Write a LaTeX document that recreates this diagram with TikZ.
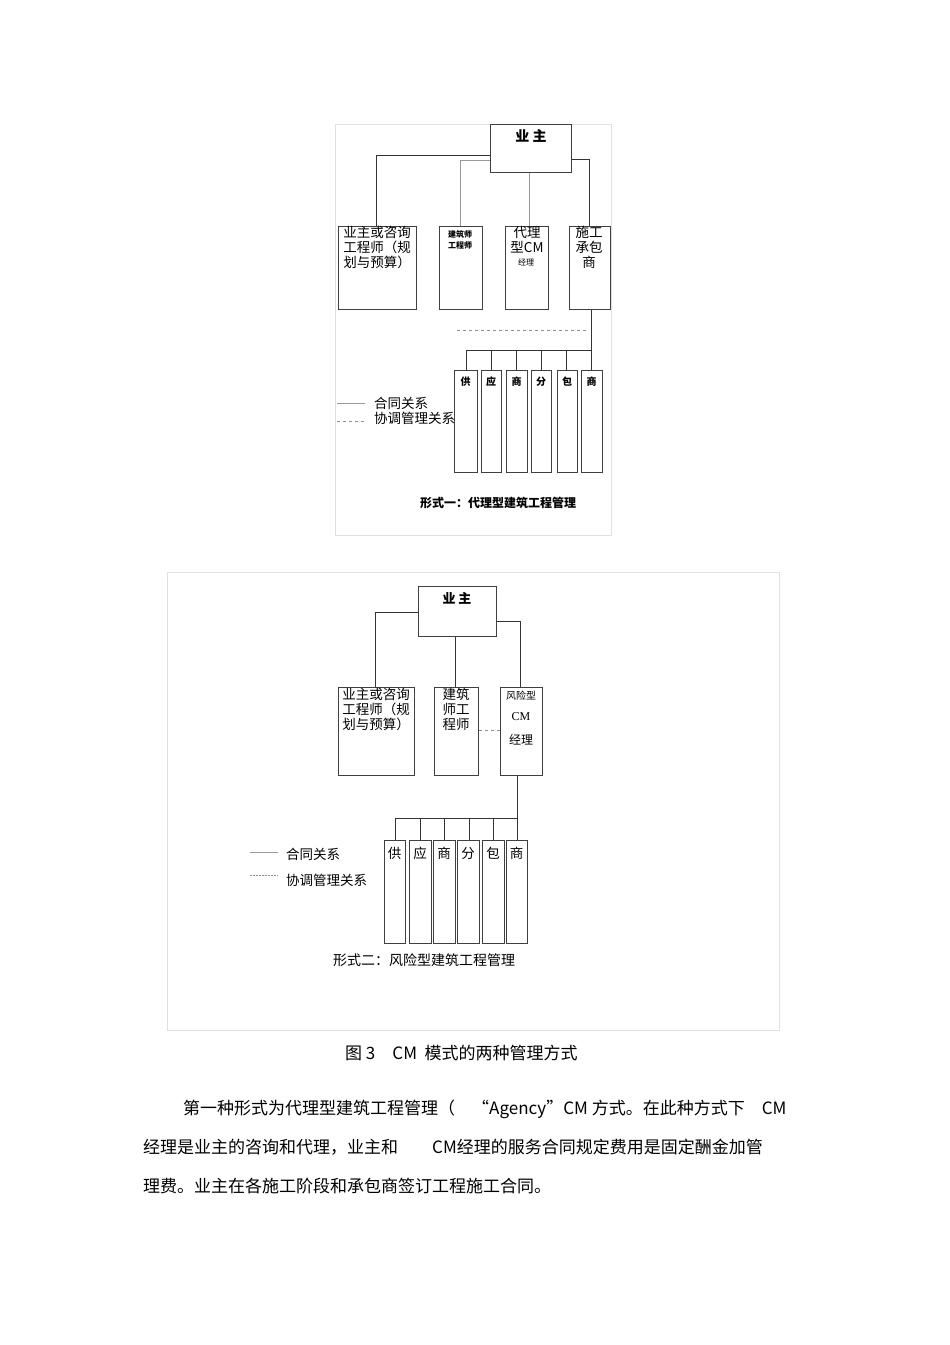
\documentclass[tikz,border=0pt]{standalone}
\usepackage{fontspec}
\setmainfont{Liberation Serif}
\newfontfamily\cjk{Noto Sans CJK SC}
\begin{document}
\begin{tikzpicture}[x=1pt,y=-1pt,
 bx/.style={draw=black!75,line width=1.1pt,rectangle,anchor=north west,inner sep=0pt},
 ln/.style={draw=black!80,line width=0.9pt},
 gl/.style={draw=black!40,line width=0.9pt},
 dl/.style={draw=black!45,dashed,line width=0.8pt},
 tx/.style={font=\cjk\fontsize{13.5}{15}\selectfont,align=center,inner sep=0pt},
 sm/.style={font=\cjk\bfseries\fontsize{10}{10}\selectfont,inner sep=0pt},
 body/.style={font=\cjk\fontsize{17}{19}\selectfont,anchor=west,inner sep=0pt}]
\useasboundingbox (0,0) rectangle (950,1345);
% ---------- diagram 1
\draw[black!12] (335,124) rectangle (611,535);
\node[bx,minimum width=81pt,minimum height=48pt] (o1) at (490,124) {};
\node[tx,font=\cjk\bfseries\fontsize{14}{15}\selectfont] at (531,136) {业 主};
\node[bx,minimum width=78pt,minimum height=83pt] (a1) at (338,226) {};
\node[bx,minimum width=43pt,minimum height=83pt] (b1) at (439,226) {};
\node[bx,minimum width=43pt,minimum height=83pt] (c1) at (505,226) {};
\node[bx,minimum width=41pt,minimum height=83pt] (d1) at (569,226) {};
\node[tx,anchor=north] at (377,226) {业主或咨询\\工程师（规\\划与预算）};
\node[sm,anchor=north,align=center,font=\cjk\bfseries\fontsize{8}{11}\selectfont] at (460,230) {建筑师\\工程师};
\node[tx,anchor=north] at (527,226) {代理\\型CM};
\node[sm,font=\cjk\fontsize{8}{9}\selectfont] at (526,262) {经理};
\node[tx,anchor=north] at (589,226) {施工\\承包\\商};
\draw[ln] (o1.west |- 0,155) -| (a1.north -| 376,0);
\draw[gl] (o1.west |- 0,160) -| (b1.north -| 460,0);
\draw[gl] (o1.south -| 529,0) -- (c1.north -| 529,0);
\draw[ln] (o1.east |- 0,159) -| (d1.north -| 589,0);
\draw[dl] (457,330) -- (587,330);
\coordinate (h1) at (591,350);
\draw[ln] (d1.south -| 591,0) -- (h1) -- (466,350);
\foreach \n/\x/\w/\xc/\t in {1/454/23/466/供,2/481/20/491/应,3/506/21/516/商,4/531/20/541/分,5/557/20/566/包,6/581/21/591/商}{
 \node[bx,minimum width=\w pt,minimum height=102pt] (s1\n) at (\x,370) {};
 \draw[ln] (\xc,350) -- (s1\n.north -| \xc,0);
 \node[sm] at (\x+\w/2,382) {\t};
}
\draw[gl] (337,403) -- (365,403);
\draw[dl] (337,421) -- (365,421);
\node[tx,anchor=west] at (374,403) {合同关系};
\node[tx,anchor=west] at (374,418) {协调管理关系};
\node[tx,font=\cjk\bfseries\fontsize{12}{13}\selectfont] at (498,503) {形式一：代理型建筑工程管理};
% ---------- diagram 2
\draw[black!12] (167,572) rectangle (779,1030);
\node[bx,minimum width=78pt,minimum height=50pt] (o2) at (418,586) {};
\node[tx,font=\cjk\bfseries\fontsize{13}{14}\selectfont] at (457,598) {业 主};
\node[bx,minimum width=76pt,minimum height=88pt] (a2) at (338,687) {};
\node[bx,minimum width=44pt,minimum height=88pt] (b2) at (434,687) {};
\node[bx,minimum width=42pt,minimum height=88pt] (c2) at (500,687) {};
\node[tx,anchor=north] at (376,688) {业主或咨询\\工程师（规\\划与预算）};
\node[tx,anchor=north] at (456,688) {建筑\\师工\\程师};
\node[sm,font=\cjk\fontsize{10}{11}\selectfont] at (521,696) {风险型};
\node[tx,anchor=north,font=\fontsize{12}{24}\selectfont] at (521,712) {CM\\\cjk 经理};
\draw[ln] (o2.west |- 0,612) -| (a2.north -| 375,0);
\draw[ln] (o2.south -| 455,0) -- (b2.north -| 455,0);
\draw[ln] (o2.east |- 0,621) -| (c2.north -| 520,0);
\draw[dl] (b2.east |- 0,730) -- (c2.west |- 0,730);
\coordinate (h2) at (517,818);
\draw[ln] (c2.south -| 517,0) -- (h2) -- (395,818);
\foreach \n/\x/\w/\xc/\t in {1/384/21/395/供,2/409/22/420/应,3/433/22/444/商,4/457/22/469/分,5/482/22/493/包,6/506/21/517/商}{
 \node[bx,minimum width=\w pt,minimum height=103pt] (s2\n) at (\x,840) {};
 \draw[ln] (\xc,818) -- (s2\n.north -| \xc,0);
 \node[tx] at (\x+\w/2,853) {\t};
}
\draw[gl] (250,852) -- (278,852);
\draw[dl,dash pattern=on 2pt off 1pt] (250,875) -- (278,875);
\node[tx,anchor=west] at (286,854) {合同关系};
\node[tx,anchor=west] at (286,880) {协调管理关系};
\node[tx,anchor=west,font=\cjk\fontsize{14}{15}\selectfont] at (333,960) {形式二：风险型建筑工程管理};
% ---------- text
\node[body] (cap) at (345,1053) {图 3\quad CM\ \ 模式的两种管理方式};
\node[body] (p1) at (183,1109) {第一种形式为代理型建筑工程管理（\quad “Agency”CM\ 方式。在此种方式下\quad CM};
\node[body] (p2) at (143,1147) {经理是业主的咨询和代理，业主和\qquad CM经理的服务合同规定费用是固定酬金加管};
\node[body] (p3) at (143,1186) {理费。业主在各施工阶段和承包商签订工程施工合同。};
\end{tikzpicture}
\end{document}
